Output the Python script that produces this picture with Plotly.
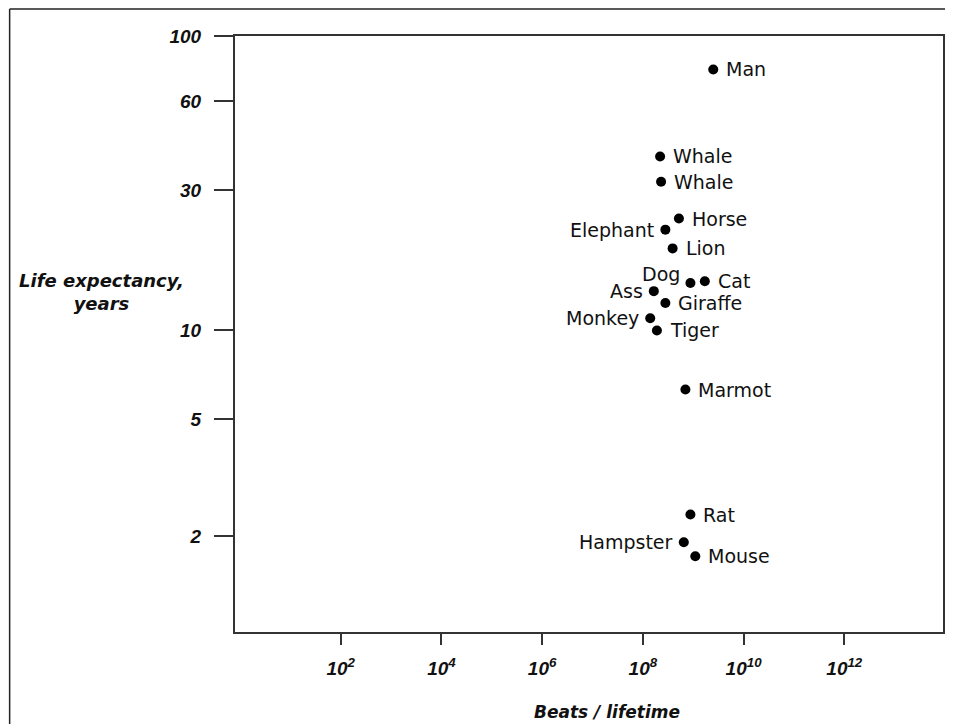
import numpy as np
import plotly.graph_objects as go

# ---- data ----
animals = ["Man", "Whale", "Whale", "Horse", "Elephant", "Lion", "Dog", "Cat",
           "Ass", "Giraffe", "Monkey", "Tiger", "Marmot", "Rat", "Hampster", "Mouse"]
beats_per_lifetime = [2.5e9, 2.2e8, 2.3e8, 5.2e8, 2.8e8, 3.9e8, 8.8e8, 1.7e9,
                      1.65e8, 2.8e8, 1.4e8, 1.9e8, 7.0e8, 8.8e8, 6.5e8, 1.1e9]
life_expectancy = [77, 39, 32, 24, 22, 19, 14.5, 14.7,
                   13.6, 12.4, 11.0, 10.0, 6.3, 2.37, 1.91, 1.71]

x_tick_values = [1e2, 1e4, 1e6, 1e8, 1e10, 1e12]
x_tick_labels = ["10<sup>2</sup>", "10<sup>4</sup>", "10<sup>6</sup>",
                 "10<sup>8</sup>", "10<sup>10</sup>", "10<sup>12</sup>"]
y_tick_values = [2, 5, 10, 30, 60, 100]
y_tick_labels = ["2", "5", "10", "30", "60", "100"]

# label placement style (which side of the dot the name goes)
label_side = {"Elephant": "left", "Ass": "left", "Monkey": "left",
              "Hampster": "left", "Dog": "upleft"}

FONT = "DejaVu Sans"
TICKFONT = "Liberation Sans"

W, H = 945, 716
ML, MR, MT, MB = 227, 8, 28, 92
PW, PH = W - ML - MR, H - MT - MB

fig = go.Figure()
fig.add_trace(go.Scatter(
    x=beats_per_lifetime, y=life_expectancy, mode="markers",
    marker=dict(size=10, color="black"), hoverinfo="text", text=animals,
    showlegend=False,
))

for name, bx, ly in zip(animals, beats_per_lifetime, life_expectancy):
    side = label_side.get(name, "right")
    if side == "right":
        kw = dict(xanchor="left", xshift=11, yshift=0)
    elif side == "left":
        kw = dict(xanchor="right", xshift=-9, yshift=0)
    else:
        kw = dict(xanchor="right", xshift=-8, yshift=9)
    fig.add_annotation(x=np.log10(bx), y=np.log10(ly), xref="x", yref="y",
                       text=name, showarrow=False, yanchor="middle",
                       font=dict(family=FONT, size=19, color="#111"), **kw)

fig.update_xaxes(
    type="log", range=[-0.099, 13.96],
    tickvals=x_tick_values, ticktext=x_tick_labels,
    ticks="outside", ticklen=11, tickwidth=2, tickcolor="#333",
    showline=True, linewidth=2, linecolor="#333", mirror=True,
    showgrid=False, zeroline=False,
    tickfont=dict(family=TICKFONT, size=19, color="#111", weight="bold", style="italic"),
    ticklabelstandoff=7,
)
fig.update_yaxes(
    type="log", range=[-0.024, 2],
    tickvals=y_tick_values, ticktext=y_tick_labels,
    ticks="outside", ticklen=19, tickwidth=2, tickcolor="#333",
    showline=True, linewidth=2, linecolor="#333", mirror=True,
    showgrid=False, zeroline=False,
    tickfont=dict(family=TICKFONT, size=19, color="#111", weight="bold", style="italic"),
    ticklabelstandoff=9,
)

# axis titles
fig.add_annotation(x=(93 - ML) / PW, y=(624 - 284) / PH, xref="paper", yref="paper",
                   text="<b><i>Life expectancy,<br>years</i></b>", showarrow=False,
                   xanchor="center", yanchor="middle", align="center",
                   font=dict(family=FONT, size=18, color="#111"))
fig.add_annotation(x=(600 - ML) / PW, y=(624 - 704) / PH, xref="paper", yref="paper",
                   text="<b><i>Beats / lifetime</i></b>", showarrow=False,
                   xanchor="center", yanchor="middle",
                   font=dict(family=FONT, size=17, color="#111"))

# outer page border (top and left), drawn along the figure's top-left edges
x_edge = (1 - ML) / PW
y_edge = 1 + (MT - 1) / PH
fig.add_shape(type="line", xref="paper", yref="paper",
              x0=x_edge, y0=y_edge, x1=1 + MR / PW + 0.01, y1=y_edge,
              line=dict(color="#222", width=1.5))
fig.add_shape(type="line", xref="paper", yref="paper",
              x0=x_edge, y0=y_edge, x1=x_edge, y1=-MB / PH - 0.01,
              line=dict(color="#222", width=1.5))

fig.update_layout(
    width=W, height=H,
    margin=dict(l=ML, r=MR, t=MT, b=MB),
    paper_bgcolor="white", plot_bgcolor="white",
    font=dict(family=FONT, color="#111"),
)

fig.write_html("out.html")
